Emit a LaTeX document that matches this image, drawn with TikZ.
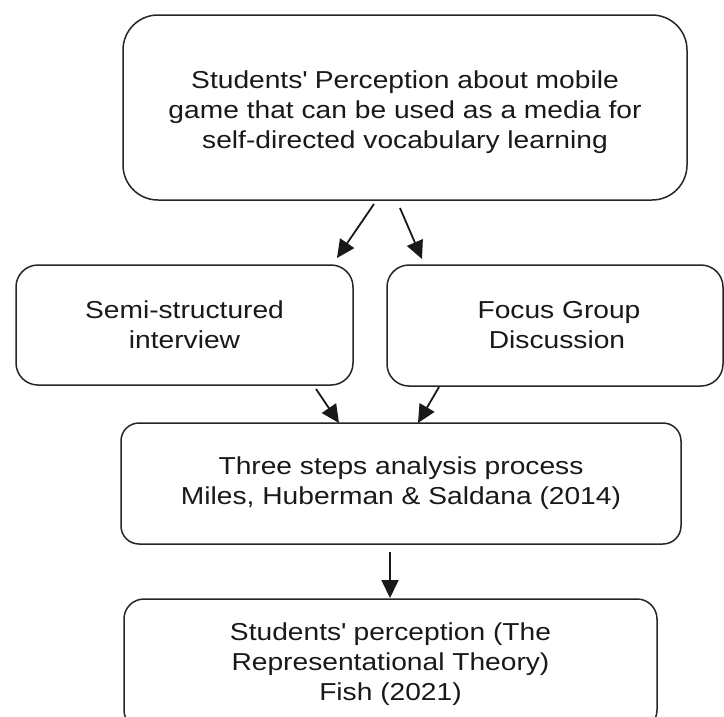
\documentclass[tikz,border=0pt]{standalone}
\usepackage{fontspec}
\setmainfont{Liberation Sans}[FakeStretch=1.15]
\usetikzlibrary{arrows.meta}
\begin{document}
\begin{tikzpicture}[x=1pt,y=-1pt,
  box/.style={draw=black!85,line width=1.5pt,align=center,inner sep=0pt,
    font=\fontsize{24.5}{30}\selectfont,text=black!90},
  arr/.style={line width=1.8pt,draw=black!90,-{Triangle[length=18pt,width=17pt]}}]
\useasboundingbox (0,0) rectangle (724,716);
\fill[white] (0,0) rectangle (724,716);
\node[box,rounded corners=35pt,minimum width=564pt,minimum height=185pt] (top) at (405,107.5)
  {\\[-2pt]Students\textquotesingle{} Perception about mobile\\game that can be used as a media for\\self-directed vocabulary learning};
\node[box,rounded corners=22pt,minimum width=337pt,minimum height=120pt] (left) at (184.5,325)
  {Semi-structured\\interview};
\node[box,rounded corners=22pt,minimum width=336pt,minimum height=121pt] (right) at (555,325.5)
  {\hspace*{8pt}Focus Group\\\hspace*{4pt}Discussion};
\node[box,rounded corners=18pt,minimum width=560pt,minimum height=121pt] (mid) at (401,483.5)
  {Three steps analysis process\\Miles, Huberman \& Saldana (2014)};
\node[box,rounded corners=20pt,minimum width=533pt,minimum height=131pt] (bot) at (390.5,664.5)
  {Students\textquotesingle{} perception (The\\Representational Theory)\\Fish (2021)};
\coordinate (a1s) at (374,204); \coordinate (a1e) at (337,258);
\coordinate (a2s) at (400,208); \coordinate (a2e) at (422,259);
\coordinate (a3s) at (316,389); \coordinate (a3e) at (339,423);
\coordinate (a4s) at (439,387); \coordinate (a4e) at (418,423);
\coordinate (a5s) at (390,552); \coordinate (a5e) at (390,598);
\draw[arr] (a1s) -- (a1e);
\draw[arr] (a2s) -- (a2e);
\draw[arr] (a3s) -- (a3e);
\draw[arr] (a4s) -- (a4e);
\draw[arr] (a5s) -- (a5e);
\end{tikzpicture}
\end{document}
